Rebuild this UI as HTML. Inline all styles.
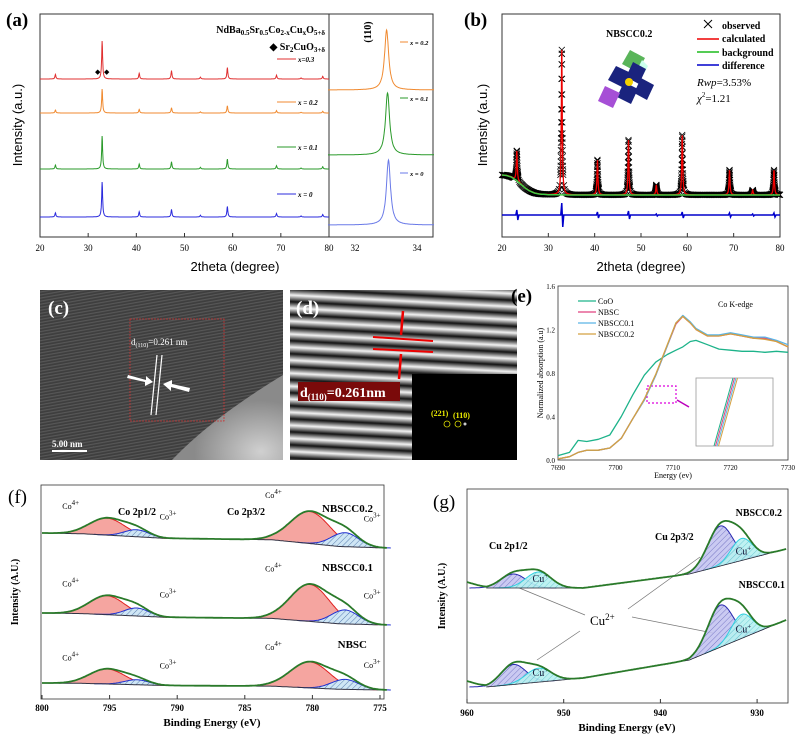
<!DOCTYPE html>
<html><head><meta charset="utf-8"><style>
html,body{margin:0;padding:0;background:#fff;}
svg{display:block;font-family:"Liberation Serif",serif;}
.b{font-weight:bold;}
</style></head><body>
<svg id="fig" width="800" height="753" viewBox="0 0 800 753" xmlns="http://www.w3.org/2000/svg">
<defs>
<pattern id="hatchB" width="4" height="4" patternUnits="userSpaceOnUse" patternTransform="rotate(45)"><rect width="4" height="4" fill="#cfe6f5"/><line x1="0" y1="0" x2="0" y2="4" stroke="#5a7fb0" stroke-width="1"/></pattern>
<pattern id="hatchP" width="4" height="4" patternUnits="userSpaceOnUse" patternTransform="rotate(45)"><rect width="4" height="4" fill="#c4c4f0"/><line x1="0" y1="0" x2="0" y2="4" stroke="#6a6ac0" stroke-width="1"/></pattern>
<pattern id="hatchC" width="4" height="4" patternUnits="userSpaceOnUse" patternTransform="rotate(45)"><rect width="4" height="4" fill="#b8f0f0"/><line x1="0" y1="0" x2="0" y2="4" stroke="#60c8d0" stroke-width="1"/></pattern>
<pattern id="tem" width="3" height="3" patternUnits="userSpaceOnUse" patternTransform="rotate(80)"><rect width="3" height="3" fill="#3e3e3e"/><rect width="1.2" height="3" fill="#575757"/></pattern>
<linearGradient id="stripeG" x1="0" y1="0" x2="0" y2="1"><stop offset="0" stop-color="#111"/><stop offset="0.5" stop-color="#f4f4f4"/><stop offset="1" stop-color="#111"/></linearGradient>
<pattern id="fringe" width="400" height="13" patternUnits="userSpaceOnUse" patternTransform="rotate(3)"><rect width="400" height="13" fill="url(#stripeG)"/></pattern>
<radialGradient id="temGlow" cx="0.8" cy="0.9" r="0.6"><stop offset="0" stop-color="#d0d0d0"/><stop offset="1" stop-color="#8a8a8a"/></radialGradient>
</defs>

<g id="pa">
<text x="6" y="26" class="b" font-size="19">(a)</text>
<rect x="40" y="14" width="289" height="223" fill="none" stroke="#333" stroke-width="1"/>
<rect x="329" y="14" width="104" height="223" fill="none" stroke="#333" stroke-width="1"/>
<text x="325" y="33" text-anchor="end" class="b" font-size="10">NdBa<tspan font-size="7" dy="2">0.5</tspan><tspan dy="-2">Sr</tspan><tspan font-size="7" dy="2">0.5</tspan><tspan dy="-2">Co</tspan><tspan font-size="7" dy="2">2-x</tspan><tspan dy="-2">Cu</tspan><tspan font-size="7" dy="2">x</tspan><tspan dy="-2">O</tspan><tspan font-size="7" dy="2">5+δ</tspan></text>
<text x="325" y="50" text-anchor="end" class="b" font-size="10">◆  Sr<tspan font-size="7" dy="2">2</tspan><tspan dy="-2">CuO</tspan><tspan font-size="7" dy="2">3+δ</tspan></text>
<text x="95" y="74" font-size="7">◆</text>
<text x="104" y="74" font-size="7">◆</text>
<text x="22" y="125" transform="rotate(-90 22 125)" text-anchor="middle" font-size="13" font-family="Liberation Sans">Intensity (a.u.)</text>
<text x="235" y="271" text-anchor="middle" font-size="13" font-family="Liberation Sans">2theta (degree)</text>
<text x="371" y="32" transform="rotate(-90 371 32)" text-anchor="middle" class="b" font-size="10">(110)</text>
<g id="paPlot"></g>
</g>

<g id="pb">
<text x="464" y="26" class="b" font-size="19">(b)</text>
<rect x="502" y="14" width="278" height="223" fill="none" stroke="#333" stroke-width="1"/>
<text x="487" y="125" transform="rotate(-90 487 125)" text-anchor="middle" font-size="13" font-family="Liberation Sans">Intensity (a.u.)</text>
<text x="641" y="271" text-anchor="middle" font-size="13" font-family="Liberation Sans">2theta (degree)</text>
<text x="606" y="37" class="b" font-size="10">NBSCC0.2</text>
<text x="722" y="29" class="b" font-size="10">observed</text>
<text x="722" y="42" class="b" font-size="10">calculated</text>
<text x="722" y="56" class="b" font-size="10">background</text>
<text x="722" y="69" class="b" font-size="10">difference</text>
<path d="M704 20 L712 28 M704 28 L712 20" stroke="#000" stroke-width="1"/>
<line x1="697" y1="39" x2="719" y2="39" stroke="#e00" stroke-width="1.5"/>
<line x1="697" y1="52" x2="719" y2="52" stroke="#5c5" stroke-width="2"/>
<line x1="697" y1="65" x2="719" y2="65" stroke="#00c" stroke-width="1.5"/>
<text x="697" y="86" font-size="11" font-style="italic">Rwp<tspan font-style="normal">=3.53%</tspan></text>
<text x="697" y="102" font-size="11" font-style="italic">χ<tspan font-size="7" dy="-5" font-style="normal">2</tspan><tspan dy="5" font-style="normal">=1.21</tspan></text>
<g>
<polygon points="630,50 645,58 637,72 622,64" fill="#5ab55a"/>
<polygon points="642,60 648,66 644,74 638,68" fill="#cfe"/>
<polygon points="616,66 631,73 624,88 608,80" fill="#1a237e"/>
<polygon points="633,62 646,69 639,84 626,77" fill="#1a237e"/>
<polygon points="624,82 638,89 631,104 617,97" fill="#1a237e"/>
<polygon points="641,78 654,85 647,100 634,93" fill="#1a237e"/>
<polygon points="605,86 620,93 613,108 598,101" fill="#a64fd6"/>
<circle cx="629" cy="82" r="4" fill="#f5d000"/>
</g>
<g id="pbPlot"></g>
</g>

<g id="pc">
<rect x="40" y="290" width="243" height="170" fill="url(#tem)"/>
<path d="M283 375 C250 395 205 425 172 460 L283 460 Z" fill="url(#temGlow)"/>
<text x="48" y="314" class="b" font-size="19" fill="#fff">(c)</text>
<rect x="130" y="319" width="94" height="102" fill="none" stroke="#c33" stroke-width="0.8" stroke-dasharray="2,1"/>
<text x="131" y="345" font-size="9" fill="#fff">d<tspan font-size="6" dy="2">(110)</tspan><tspan dy="-2">=0.261 nm</tspan></text>
<line x1="157" y1="355" x2="151" y2="415" stroke="#fff" stroke-width="1.2"/>
<line x1="162" y1="355" x2="156" y2="415" stroke="#fff" stroke-width="1.2"/>
<path d="M128 375 L146 380 L146 376 L153 382 L145 386 L145 382 L127 378 Z" fill="#fff"/>
<path d="M189 392 L171 387 L171 391 L163 384 L172 380 L172 384 L190 388 Z" fill="#fff"/>
<line x1="52" y1="451" x2="87" y2="451" stroke="#fff" stroke-width="2"/>
<text x="52" y="447" font-size="9" fill="#fff" class="b">5.00 nm</text>
</g>

<g id="pd">
<rect x="290" y="290" width="227" height="170" fill="url(#fringe)"/>
<text x="296" y="314" class="b" font-size="19" fill="#fff">(d)</text>
<line x1="373" y1="337" x2="433" y2="341" stroke="#e00" stroke-width="2"/>
<line x1="373" y1="349" x2="433" y2="352" stroke="#e00" stroke-width="2"/>
<line x1="403" y1="311" x2="401" y2="335" stroke="#e00" stroke-width="2.5"/>
<line x1="401" y1="354" x2="399" y2="379" stroke="#e00" stroke-width="2.5"/>
<rect x="412" y="374" width="105" height="86" fill="#000"/>
<rect x="298" y="382" width="102" height="19" fill="#7a0a0a"/>
<text x="300" y="397" class="b" font-size="14" fill="#fff">d<tspan font-size="9" dy="3">(110)</tspan><tspan dy="-3">=0.261nm</tspan></text>
<text x="431" y="416" font-size="8" fill="#ee0" class="b">(221)</text>
<text x="453" y="418" font-size="8" fill="#ee0" class="b">(110)</text>
<circle cx="447" cy="424" r="3" fill="none" stroke="#dd0" stroke-width="0.8"/>
<circle cx="458" cy="424" r="3" fill="none" stroke="#dd0" stroke-width="0.8"/>
<circle cx="465" cy="424" r="1.5" fill="#ccc"/>
</g>

<g id="pe">
<text x="511" y="302" class="b" font-size="19">(e)</text>
<rect x="558" y="286" width="230" height="174" fill="none" stroke="#333" stroke-width="0.8"/>
<text x="543" y="373" transform="rotate(-90 543 373)" text-anchor="middle" font-size="8">Normalized absorption (a.u)</text>
<text x="673" y="478" text-anchor="middle" font-size="8">Energy (ev)</text>
<text x="718" y="307" font-size="8">Co K-edge</text>
<rect x="696" y="378" width="77" height="68" fill="#fff" stroke="#999" stroke-width="0.8"/>
<rect x="647" y="386" width="29" height="17" fill="none" stroke="#d0d" stroke-width="1.2" stroke-dasharray="2,2"/>
<line x1="677" y1="400" x2="689" y2="407" stroke="#b0b" stroke-width="1.5"/>
<g id="peLegend"></g>
<g id="pePlot"></g>
</g>

<g id="pf">
<text x="8" y="503" font-size="19">(f)</text>
<rect x="41" y="485" width="343" height="214" fill="none" stroke="#333" stroke-width="0.8"/>
<text x="18" y="592" transform="rotate(-90 18 592)" text-anchor="middle" class="b" font-size="10">Intensity (A.U.)</text>
<text x="212" y="726" text-anchor="middle" class="b" font-size="11">Binding Energy (eV)</text>
<text x="373" y="512" text-anchor="end" class="b" font-size="11">NBSCC0.2</text>
<text x="373" y="571" text-anchor="end" class="b" font-size="11">NBSCC0.1</text>
<text x="367" y="648" text-anchor="end" class="b" font-size="11">NBSC</text>
<text x="118" y="515" class="b" font-size="10">Co 2p1/2</text>
<text x="227" y="515" class="b" font-size="10">Co 2p3/2</text>
<g id="pfLabels" font-size="8"></g>
<g id="pfPlot"></g>
</g>

<g id="pg">
<text x="433" y="508" font-size="19">(g)</text>
<rect x="467" y="489" width="321" height="214" fill="none" stroke="#333" stroke-width="0.8"/>
<text x="445" y="596" transform="rotate(-90 445 596)" text-anchor="middle" class="b" font-size="10">Intensity (A.U.)</text>
<text x="627" y="731" text-anchor="middle" class="b" font-size="11">Binding Energy (eV)</text>
<text x="782" y="516" text-anchor="end" class="b" font-size="10">NBSCC0.2</text>
<text x="785" y="588" text-anchor="end" class="b" font-size="10">NBSCC0.1</text>
<text x="655" y="540" class="b" font-size="10">Cu 2p3/2</text>
<text x="489" y="549" class="b" font-size="10">Cu 2p1/2</text>
<text x="590" y="625" font-size="13">Cu<tspan font-size="9" dy="-5">2+</tspan></text>
<g stroke="#777" stroke-width="0.7" fill="none">
<line x1="512" y1="585" x2="585" y2="615"/>
<line x1="700" y1="557" x2="628" y2="609"/>
<line x1="713" y1="633" x2="632" y2="617"/>
<line x1="537" y1="660" x2="580" y2="631"/>
</g>
<g id="pgPlot"></g>
</g>
</svg>

<script>
// (a) XRD
const xrdPeakPos = [23.2, 32.9, 40.6, 47.3, 53.3, 58.9, 69.1, 74.2, 78.7];
const xrdPeakRel = [0.12, 1.0, 0.15, 0.22, 0.05, 0.3, 0.1, 0.03, 0.07];
const xrdSeries = ['x = 0', 'x = 0.1', 'x = 0.2', 'x=0.3'];
const xrdMainPeak = [35, 33, 24, 38];
const xrdTicks = [20, 30, 40, 50, 60, 70, 80];
const insetSeries = ['x = 0', 'x = 0.1', 'x = 0.2'];
const insetPeakPos = [33.08, 33.05, 33.02];
const insetPeakHeight = [65, 62, 60];
const insetTicks = [32, 34];
// (b) Rietveld
const rvPeakPos = [23.2, 32.9, 40.6, 47.3, 53.3, 58.9, 69.1, 74.1, 78.7];
const rvPeakHeight = [30, 145, 35, 55, 10, 60, 25, 5, 25];
const rvDiff = [5, 12, 3, 4, 1, 3, 2, 1, 2];
const rvBgX = [20, 21, 22, 23, 24, 25, 26, 27, 28, 30, 35, 80];
const rvBgV = [20, 19.5, 18, 15, 11, 7, 4, 2, 1, 0.3, 0, 0];
const rvTicks = [20, 30, 40, 50, 60, 70, 80];
// (e) XANES
const xanesNames = ['CoO', 'NBSC', 'NBSCC0.1', 'NBSCC0.2'];
const xanesE = [7690, 7692, 7693.5, 7695, 7697, 7699, 7701, 7703, 7705, 7707, 7709, 7710.5, 7711.7, 7713, 7714, 7716, 7718, 7720, 7722, 7724, 7726, 7728, 7730];
const xanesCoO = [0.04, 0.07, 0.18, 0.17, 0.19, 0.23, 0.4, 0.6, 0.78, 0.9, 0.97, 1.01, 1.04, 1.09, 1.10, 1.06, 1.02, 1.01, 1.0, 1.0, 0.99, 1.0, 0.99];
const xanesNBSC = [0.01, 0.03, 0.07, 0.09, 0.09, 0.11, 0.2, 0.38, 0.55, 0.78, 1.05, 1.25, 1.32, 1.26, 1.2, 1.14, 1.14, 1.16, 1.14, 1.12, 1.12, 1.09, 1.04];
const xanesNBSCC01 = [0.01, 0.03, 0.07, 0.09, 0.09, 0.11, 0.2, 0.38, 0.55, 0.78, 1.05, 1.26, 1.33, 1.27, 1.21, 1.15, 1.15, 1.17, 1.15, 1.13, 1.13, 1.1, 1.06];
const xanesNBSCC02 = [0.01, 0.03, 0.07, 0.09, 0.09, 0.11, 0.2, 0.38, 0.56, 0.79, 1.06, 1.26, 1.32, 1.26, 1.2, 1.14, 1.14, 1.16, 1.14, 1.12, 1.11, 1.09, 1.04];
const xanesXTicks = [7690, 7700, 7710, 7720, 7730];
const xanesYTicks = [0.0, 0.4, 0.8, 1.2, 1.6];
// (f) Co 2p
const coSamples = ['NBSC', 'NBSCC0.1', 'NBSCC0.2'];
const coCenters = [795.2, 793.0, 780.2, 777.6];
const coTypes = ['Co4+', 'Co3+', 'Co4+', 'Co3+'];
const coSigma = [1.3, 0.9, 1.45, 1.0];
const coHeightsNBSC = [15, 5, 26, 10];
const coHeights01 = [19, 8, 37, 14];
const coHeights02 = [17, 7, 32, 14];
const coBaseE = [800, 797, 791, 783, 778, 774.5];
const coBaseFrac = [0, 0.05, 0.35, 0.45, 0.9, 1];
const coTicks = [800, 795, 790, 785, 780, 775];
// (g) Cu 2p
const cuSamples = ['NBSCC0.1', 'NBSCC0.2'];
const cuCenters = [955.2, 952.6, 933.8, 931.6];
const cuTypes = ['Cu2+', 'Cu+', 'Cu2+', 'Cu+'];
const cuSigma = [1.3, 1.3, 1.3, 1.1];
const cuHeights01 = [20, 14, 42, 24];
const cuHeights02 = [14, 16, 40, 22];
const cuBaseE = [958, 948, 937, 927];
const cuBase01 = [687, 678, 660, 620];
const cuBase02 = [588, 588, 574, 549];
const cuTicks = [960, 950, 940, 930];

const NS = 'http://www.w3.org/2000/svg';
function mk(tag, attrs, parent) { const e = document.createElementNS(NS, tag); for (const k in attrs) e.setAttribute(k, attrs[k]); parent.appendChild(e); return e; }
function interp(xs, ys, x) { if (xs[0] > xs[xs.length-1]) { xs = xs.slice().reverse(); ys = ys.slice().reverse(); } if (x <= xs[0]) return ys[0]; for (let i = 1; i < xs.length; i++) { if (x <= xs[i]) { const t = (x - xs[i-1]) / (xs[i] - xs[i-1]); return ys[i-1] + t * (ys[i] - ys[i-1]); } } return ys[ys.length-1]; }
function lor(d, w) { return 1 / (1 + (d / w) * (d / w)); }
function gau(d, s) { return Math.exp(-d * d / (2 * s * s)); }

// PANEL A
const ax = d => 40 + (d - 20) * (289 / 60);
const aix = d => 355 + (d - 32) * 31;
const xrdBase = [217, 169, 113, 79];
const xrdColors = ['#2b2bdd', '#2a9a2a', '#f08a30', '#e03030'];
const xrdLabelY = [197, 150, 105, 62];
const pa = document.getElementById('paPlot');
for (let s = 0; s < xrdSeries.length; s++) {
  let d = '';
  for (let t = 20; t <= 80.001; t += 0.05) {
    let v = 0;
    for (let i = 0; i < xrdPeakPos.length; i++) v += xrdPeakRel[i] * lor(t - xrdPeakPos[i], 0.12);
    d += (d ? 'L' : 'M') + ax(t).toFixed(1) + ' ' + (xrdBase[s] - v * xrdMainPeak[s]).toFixed(1);
  }
  const p = mk('path', { d: d, fill: 'none', stroke: xrdColors[s], 'stroke-width': 1 }, pa);
  
  
  const ll = mk('line', { x1: 277, y1: xrdLabelY[s] - 3, x2: 296, y2: xrdLabelY[s] - 3, stroke: xrdColors[s], 'stroke-width': 1 }, pa);
  
  
  const lt = mk('text', { x: 298, y: xrdLabelY[s], 'font-size': 7, 'font-style': 'italic', 'font-weight': 'bold' }, pa);
  lt.textContent = xrdSeries[s];
  
  
}
const insetBase = [225, 155, 90];
const insetColors = ['#6a7ae8', '#2a9a2a', '#f08a30'];
const insetLabelY = [176, 101, 45];
for (let s = 0; s < insetSeries.length; s++) {
  let d = '';
  for (let t = 31.13; t <= 34.55; t += 0.01) {
    const v = insetPeakHeight[s] * lor(t - insetPeakPos[s], 0.08);
    d += (d ? 'L' : 'M') + aix(t).toFixed(1) + ' ' + (insetBase[s] - v).toFixed(1);
  }
  const p = mk('path', { d: d, fill: 'none', stroke: insetColors[s], 'stroke-width': 1 }, pa);
  
  
  const ll = mk('line', { x1: 400, y1: insetLabelY[s] - 3, x2: 408, y2: insetLabelY[s] - 3, stroke: insetColors[s], 'stroke-width': 1 }, pa);
  
  
  const lt = mk('text', { x: 410, y: insetLabelY[s], 'font-size': 6.5, 'font-style': 'italic', 'font-weight': 'bold' }, pa);
  lt.textContent = insetSeries[s];
  
  
}
for (const t of xrdTicks) {
  const tk = mk('line', { x1: ax(t), y1: 237, x2: ax(t), y2: 233, stroke: '#333' }, pa);
  
  
  const tl = mk('text', { x: ax(t), y: 251, 'text-anchor': 'middle', 'font-size': 9 }, pa);
  tl.textContent = t;
  
  
}
for (const t of insetTicks) {
  const tl = mk('text', { x: aix(t), y: 251, 'text-anchor': 'middle', 'font-size': 9 }, pa);
  tl.textContent = t;
  
  
}

// PANEL B
const bx = d => 502 + (d - 20) * (278 / 60);
const bBase = 195;
const pb = document.getElementById('pbPlot');
function calcB(t) { let v = interp(rvBgX, rvBgV, t); for (let i = 0; i < rvPeakPos.length; i++) v += rvPeakHeight[i] * lor(t - rvPeakPos[i], 0.12); return bBase - v; }
let obs = '';
const obsX = [];
for (let t = 20; t <= 80.001; t += 0.15) obsX.push(t);
for (let i = 0; i < rvPeakPos.length; i++) for (let t = rvPeakPos[i] - 0.3; t <= rvPeakPos[i] + 0.3; t += 0.02) obsX.push(t);
for (const t of obsX) { const x = bx(t), y = calcB(t); obs += 'M' + (x-3).toFixed(1) + ' ' + (y-3).toFixed(1) + 'L' + (x+3).toFixed(1) + ' ' + (y+3).toFixed(1) + 'M' + (x-3).toFixed(1) + ' ' + (y+3).toFixed(1) + 'L' + (x+3).toFixed(1) + ' ' + (y-3).toFixed(1); }
const ob = mk('path', { d: obs, stroke: '#000', 'stroke-width': 0.8, fill: 'none' }, pb);


let calc = '', bg = '';
for (let t = 20; t <= 80.001; t += 0.03) { calc += (calc ? 'L' : 'M') + bx(t).toFixed(1) + ' ' + calcB(t).toFixed(1); }
for (let t = 20; t <= 80.001; t += 0.25) { bg += (bg ? 'L' : 'M') + bx(t).toFixed(1) + ' ' + (bBase - interp(rvBgX, rvBgV, t)).toFixed(1); }
const cl = mk('path', { d: calc, stroke: '#e00', 'stroke-width': 1.3, fill: 'none' }, pb);


const bgl = mk('path', { d: bg, stroke: '#4c4', 'stroke-width': 1.5, fill: 'none' }, pb);


let diff = 'M' + bx(20) + ' 215';
for (let i = 0; i < rvPeakPos.length; i++) { const x = bx(rvPeakPos[i]); diff += 'L' + (x-1) + ' 215L' + x + ' ' + (215 - rvDiff[i]) + 'L' + (x+1) + ' ' + (215 + rvDiff[i]) + 'L' + (x+2) + ' 215'; }
diff += 'L' + bx(80) + ' 215';
const dl = mk('path', { d: diff, stroke: '#00c', 'stroke-width': 1.5, fill: 'none' }, pb);


for (const t of rvTicks) {
  const tl = mk('text', { x: bx(t), y: 251, 'text-anchor': 'middle', 'font-size': 9 }, pb);
  tl.textContent = t;
  
  
  const tk = mk('line', { x1: bx(t), y1: 237, x2: bx(t), y2: 233, stroke: '#333' }, pb);
  
  
}

// PANEL E
const ex = d => 558 + (d - 7690) * (230 / 40);
const ey = v => 460 - v * (174 / 1.6);
const pe = document.getElementById('pePlot');
const xanesSeries = [xanesCoO, xanesNBSC, xanesNBSCC01, xanesNBSCC02];
const xanesColors = ['#1db38a', '#e0407f', '#5ab4e5', '#d4a040'];
for (let s = 0; s < xanesSeries.length; s++) {
  const d = xanesE.map((e, i) => (i ? 'L' : 'M') + ex(e).toFixed(1) + ' ' + ey(xanesSeries[s][i]).toFixed(1)).join('');
  const p = mk('path', { d: d, fill: 'none', stroke: xanesColors[s], 'stroke-width': 1.3, 'stroke-linejoin': 'round' }, pe);
  
  
  const lg = document.getElementById('peLegend');
  const ll = mk('line', { x1: 578, y1: 301 + s * 11, x2: 596, y2: 301 + s * 11, stroke: xanesColors[s], 'stroke-width': 1.3 }, lg);
  
  
  const lt = mk('text', { x: 598, y: 304 + s * 11, 'font-size': 8 }, lg);
  lt.textContent = xanesNames[s];
  
  
  const il = mk('line', { x1: 714 + s * 1.5, y1: 446, x2: 733 + s * 1.5, y2: 378, stroke: xanesColors[s], 'stroke-width': 1 }, pe);
  
  
}
for (const t of xanesXTicks) {
  const tl = mk('text', { x: ex(t), y: 470, 'text-anchor': 'middle', 'font-size': 7 }, pe);
  tl.textContent = t;
  
  
}
for (const t of xanesYTicks) {
  const tl = mk('text', { x: 555, y: ey(t) + 3, 'text-anchor': 'end', 'font-size': 7 }, pe);
  tl.textContent = t.toFixed(1);
  
  
}

// PANEL F
const fx = d => 42 + (800 - d) * 13.52;
const pf = document.getElementById('pfPlot');
const coHeights = [coHeightsNBSC, coHeights01, coHeights02];
const coLeft = [683, 613, 533];
const coRight = [690, 625, 548];
function coBase(s, e) { return coLeft[s] + (coRight[s] - coLeft[s]) * interp(coBaseE, coBaseFrac, e); }
for (let s = 0; s < coSamples.length; s++) {
  for (let k = 0; k < coCenters.length; k++) {
    const pts = [];
    for (let e = coCenters[k] + 3.5 * coSigma[k]; e >= coCenters[k] - 3.5 * coSigma[k]; e -= 0.1) pts.push(e);
    const d = pts.map((e, i) => (i ? 'L' : 'M') + fx(e).toFixed(1) + ' ' + (coBase(s, e) - coHeights[s][k] * gau(e - coCenters[k], coSigma[k])).toFixed(1)).join('');
    const back = pts.slice().reverse().map(e => 'L' + fx(e).toFixed(1) + ' ' + coBase(s, e).toFixed(1)).join('');
    const isCo4 = coTypes[k] === 'Co4+';
    const area = mk('path', { d: d + back + 'Z', fill: isCo4 ? '#f5a5a0' : 'url(#hatchB)', stroke: 'none' }, pf);
    
    
    const ol = mk('path', { d: d, fill: 'none', stroke: isCo4 ? '#e02020' : '#2030d0', 'stroke-width': 1 }, pf);
    
    
  }
  let base = '', env = '';
  for (let e = 800; e >= 774.4; e -= 0.1) {
    base += (base ? 'L' : 'M') + fx(e).toFixed(1) + ' ' + coBase(s, e).toFixed(1);
    let v = 0;
    for (let k = 0; k < coCenters.length; k++) v += coHeights[s][k] * gau(e - coCenters[k], coSigma[k]);
    env += (env ? 'L' : 'M') + fx(e).toFixed(1) + ' ' + (coBase(s, e) - v).toFixed(1);
  }
  const bl = mk('path', { d: base, fill: 'none', stroke: '#334', 'stroke-width': 1 }, pf);
  
  
  const el = mk('path', { d: env, fill: 'none', stroke: '#2a7a2a', 'stroke-width': 1.8 }, pf);
  
  
  const labY = [coBase(s, 797) - coHeights[s][0] - 8, coBase(s, 790) - coHeights[s][1] - 12, coBase(s, 783) - coHeights[s][2] - 10, coBase(s, 775.5) - coHeights[s][3] - 12];
  const labX = [fx(798.5), fx(791.3), fx(783.5), fx(776.2)];
  for (let k = 0; k < coCenters.length; k++) {
    const tx = mk('text', { x: labX[k], y: labY[k], 'font-size': 8 }, document.getElementById('pfLabels'));
    tx.innerHTML = 'Co<tspan font-size="7" dy="-4">' + coTypes[k].slice(2) + '</tspan>';
    
    
  }
}
for (const t of coTicks) {
  const tl = mk('text', { x: fx(t), y: 711, 'text-anchor': 'middle', 'font-size': 9, 'font-weight': 'bold' }, pf);
  tl.textContent = t;
  
  
  const tk = mk('line', { x1: fx(t), y1: 699, x2: fx(t), y2: 695, stroke: '#333' }, pf);
  
  
}

// PANEL G
const gx = d => 467 + (960 - d) * 9.67;
const pg = document.getElementById('pgPlot');
const cuHeights = [cuHeights01, cuHeights02];
const cuBases = [cuBase01, cuBase02];
for (let s = 0; s < cuSamples.length; s++) {
  const cb = e => interp(cuBaseE, cuBases[s], e);
  for (let k = 0; k < cuCenters.length; k++) {
    const pts = [];
    for (let e = cuCenters[k] + 3.5 * cuSigma[k]; e >= cuCenters[k] - 3.5 * cuSigma[k]; e -= 0.1) pts.push(e);
    const d = pts.map((e, i) => (i ? 'L' : 'M') + gx(e).toFixed(1) + ' ' + (cb(e) - cuHeights[s][k] * gau(e - cuCenters[k], cuSigma[k])).toFixed(1)).join('');
    const back = pts.slice().reverse().map(e => 'L' + gx(e).toFixed(1) + ' ' + cb(e).toFixed(1)).join('');
    const isCu2 = cuTypes[k] === 'Cu2+';
    const area = mk('path', { d: d + back + 'Z', fill: isCu2 ? 'url(#hatchP)' : 'url(#hatchC)', stroke: 'none', opacity: 0.9 }, pg);
    
    
    const ol = mk('path', { d: d, fill: 'none', stroke: isCu2 ? '#2828b0' : '#30d0e0', 'stroke-width': 1 }, pg);
    
    
    if (!isCu2) {
      const tx = mk('text', { x: gx(cuCenters[k]) - 6, y: cb(cuCenters[k]) - 6, 'font-size': 10, fill: '#113' }, pg);
      tx.innerHTML = 'Cu<tspan font-size="7" dy="-4">+</tspan>';
      
      
    }
  }
  let base = '', env = '';
  for (let e = 960; e >= 926.9; e -= 0.1) {
    const b = cb(e);
    if (e <= 958) base += (base ? 'L' : 'M') + gx(e).toFixed(1) + ' ' + b.toFixed(1);
    let v = 0;
    for (let k = 0; k < cuCenters.length; k++) v += cuHeights[s][k] * gau(e - cuCenters[k], cuSigma[k]);
    const extra = e > 958 ? (e - 958) * 3 : 0;
    env += (env ? 'L' : 'M') + gx(e).toFixed(1) + ' ' + (b - v - extra).toFixed(1);
  }
  const bl = mk('path', { d: base, fill: 'none', stroke: '#223', 'stroke-width': 0.8 }, pg);
  
  
  const el = mk('path', { d: env, fill: 'none', stroke: '#2a7a2a', 'stroke-width': 1.8 }, pg);
  
  
}
for (const t of cuTicks) {
  const tl = mk('text', { x: gx(t), y: 716, 'text-anchor': 'middle', 'font-size': 9, 'font-weight': 'bold' }, pg);
  tl.textContent = t;
  
  
  const tk = mk('line', { x1: gx(t), y1: 703, x2: gx(t), y2: 699, stroke: '#333' }, pg);
  
  
}
</script>
</body></html>
